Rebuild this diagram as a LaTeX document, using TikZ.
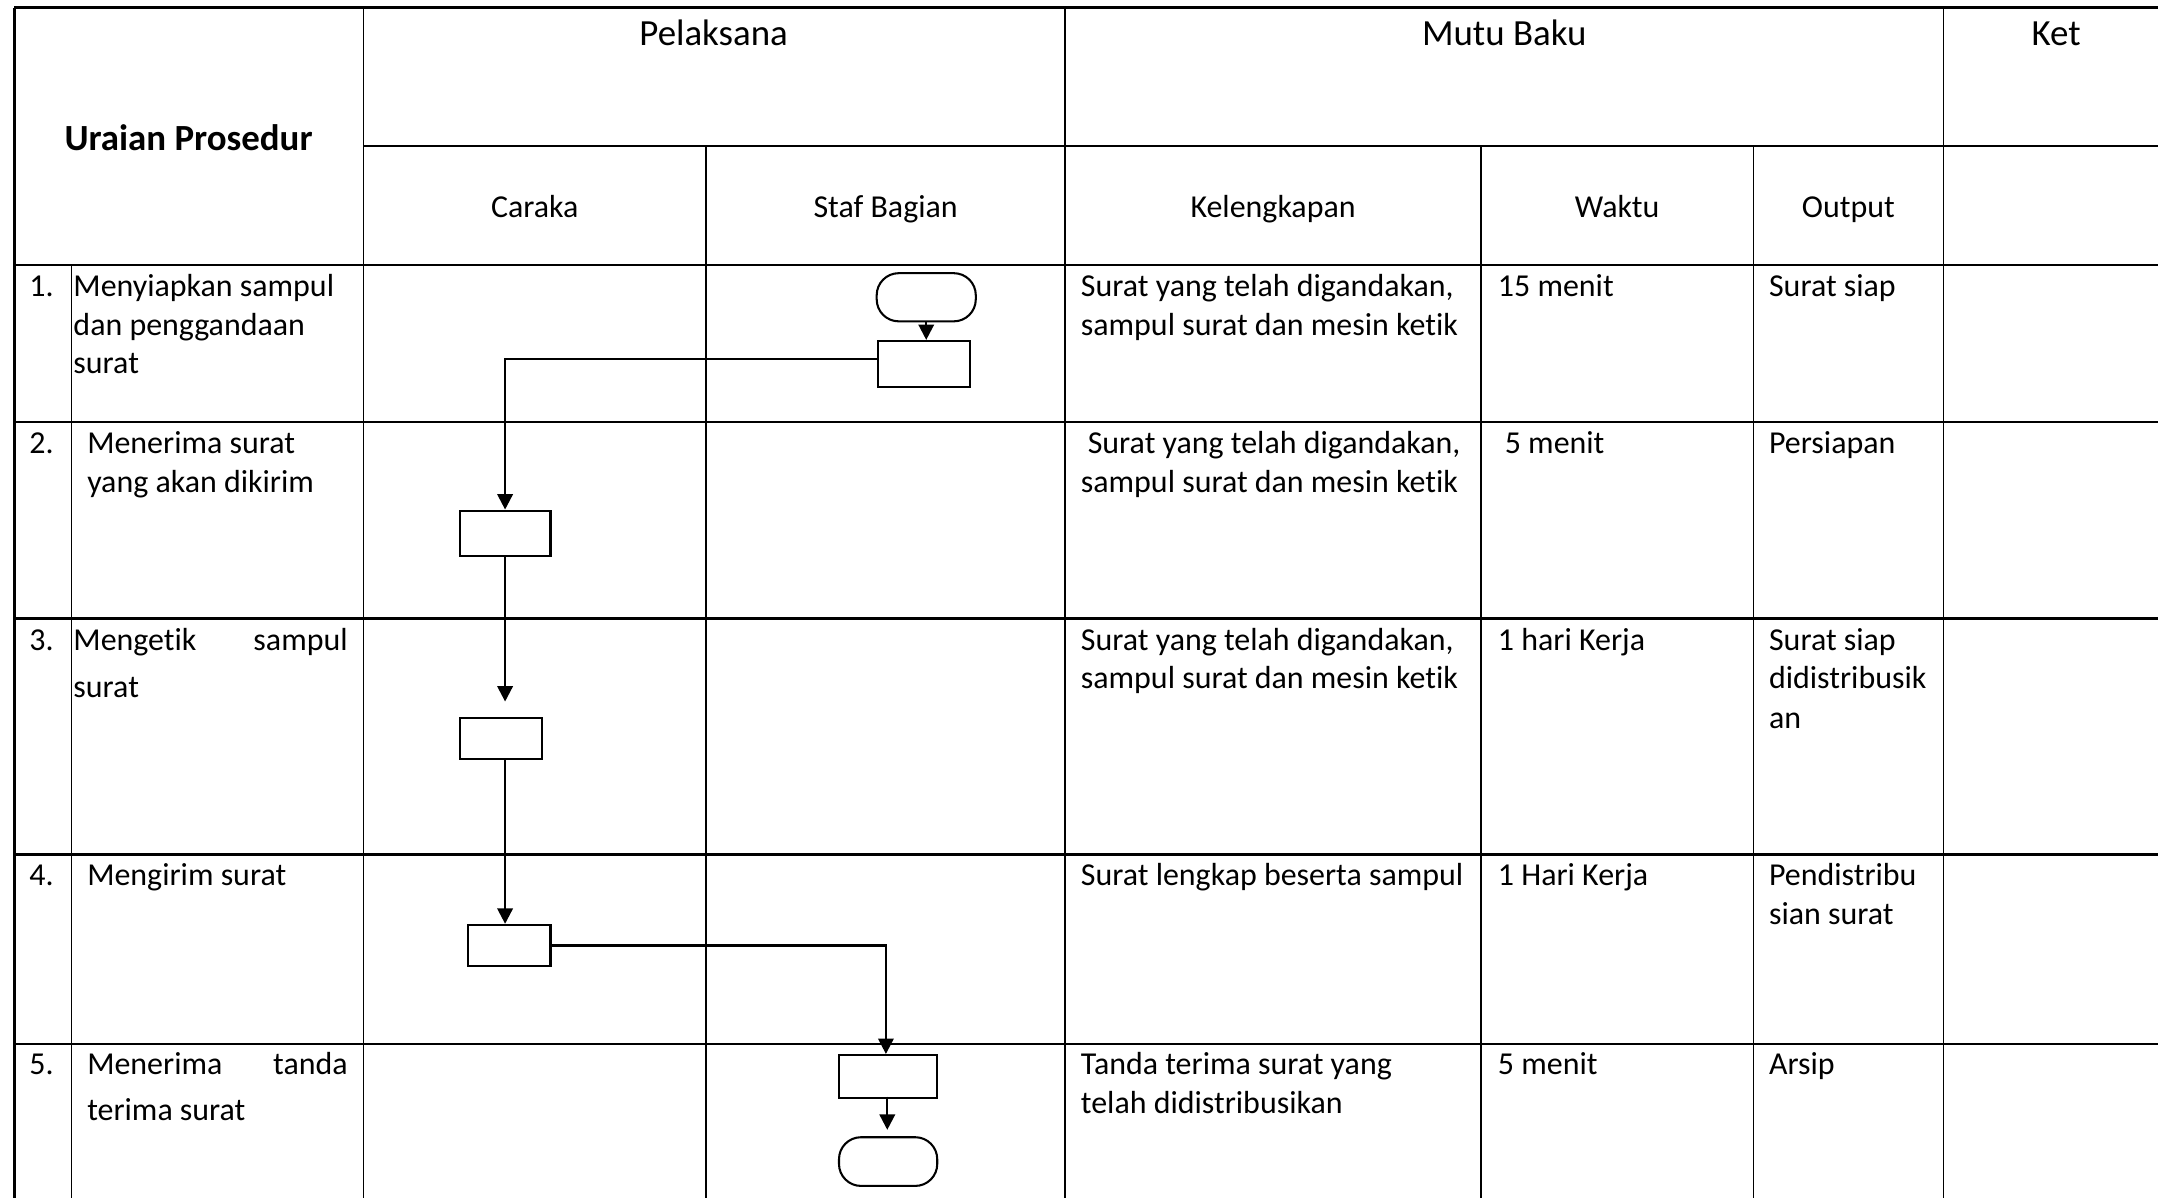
\documentclass[tikz,border=0pt]{standalone}
\usepackage{fontspec}
\setmainfont{Carlito}[Ligatures=CommonOff]
\usetikzlibrary{arrows.meta}
\begin{document}
\begin{tikzpicture}[x=0.5pt,y=-0.5pt,
  hline/.style={line width=0.9pt},
  vline/.style={line width=0.55pt},
  body/.style={font=\fontsize{11.6}{14}\selectfont, inner sep=0pt, anchor=base west},
  bodyr/.style={font=\fontsize{11.6}{14}\selectfont, inner sep=0pt, anchor=base east},
  hdr/.style={font=\fontsize{13.4}{16}\selectfont, inner sep=0pt, anchor=base},
  sub/.style={font=\fontsize{11.6}{14}\selectfont, inner sep=0pt, anchor=base},
  proc/.style={draw, line width=0.75pt, rectangle, inner sep=0pt},
  term/.style={draw, line width=0.75pt, rectangle, rounded corners=8pt, inner sep=0pt},
  arr/.style={line width=0.85pt, -{Triangle[length=5.6pt,width=5.6pt]}}]
\useasboundingbox (0,0) rectangle (1568,870);

% ---- table grid ----
\draw[hline] (10.5,5.5) -- (1576,5.5);
\draw[hline] (264,106) -- (1576,106);
\draw[hline] (10.5,192.5) -- (1576,192.5);
\draw[hline] (10.5,306.5) -- (1576,306.5);
\draw[hline] (10.5,449.5) -- (1576,449.5);
\draw[hline] (10.5,621) -- (1576,621);
\draw[hline] (10.5,758.5) -- (1576,758.5);
\draw[hline] (10.5,5.5) -- (10.5,880);
\draw[vline] (52,192.5) -- (52,880);
\draw[vline] (264,5.5) -- (264,880);
\draw[vline] (513,106) -- (513,880);
\draw[vline] (774,5.5) -- (774,880);
\draw[vline] (1076,106) -- (1076,880);
\draw[vline] (1274,106) -- (1274,880);
\draw[vline] (1412,5.5) -- (1412,880);
\draw[vline] (1576,5.5) -- (1576,880);

% ---- headers ----
\node[hdr, font=\fontsize{13.4}{16}\selectfont\bfseries] (hUraian) at (137,109) {Uraian Prosedur};
\node[hdr] (hPel) at (518.5,33) {Pelaksana};
\node[hdr] (hMutu) at (1093,33) {Mutu Baku};
\node[hdr] (hKet) at (1494,33) {Ket};
\node[sub] (hCar) at (388.5,158) {Caraka};
\node[sub] (hStaf) at (643.5,158) {Staf Bagian};
\node[sub] (hKel) at (925,158) {Kelengkapan};
\node[sub] (hWak) at (1175,158) {Waktu};
\node[sub] (hOut) at (1343,158) {Output};

% ---- row 1 ----
\node[body] (n1) at (21,215.5) {1.};
\node[body] (u1a) at (53,215.5) {Menyiapkan sampul};
\node[body] (u1b) at (53,243.5) {dan penggandaan};
\node[body] (u1c) at (53,271.5) {surat};
\node[body] (k1a) at (785,215.5) {Surat yang telah digandakan,};
\node[body] (k1b) at (785,243.5) {sampul surat dan mesin ketik};
\node[body] (w1) at (1088,215.5) {15 menit};
\node[body] (o1) at (1285,215.5) {Surat siap};

% ---- row 2 ----
\node[body] (n2) at (21,329.5) {2.};
\node[body] (u2a) at (63,329.5) {Menerima surat};
\node[body] (u2b) at (63,357.5) {yang akan dikirim};
\node[body] (k2a) at (790,329.5) {Surat yang telah digandakan,};
\node[body] (k2b) at (785,357.5) {sampul surat dan mesin ketik};
\node[body] (w2) at (1093,329.5) {5 menit};
\node[body] (o2) at (1285,329.5) {Persiapan};

% ---- row 3 ----
\node[body] (n3) at (21,472.5) {3.};
\node[body] (u3a) at (53,472.5) {Mengetik};
\node[bodyr] (u3b) at (253,472.5) {sampul};
\node[body] (u3c) at (53,506.5) {surat};
\node[body] (k3a) at (785,472.5) {Surat yang telah digandakan,};
\node[body] (k3b) at (785,500.5) {sampul surat dan mesin ketik};
\node[body] (w3) at (1088,472.5) {1 hari Kerja};
\node[body] (o3a) at (1285,472.5) {Surat siap};
\node[body] (o3b) at (1285,500.5) {didistribusik};
\node[body] (o3c) at (1285,529.5) {an};

% ---- row 4 ----
\node[body] (n4) at (21,643.5) {4.};
\node[body] (u4a) at (63,643.5) {Mengirim surat};
\node[body] (k4a) at (785,643.5) {Surat lengkap beserta sampul};
\node[body] (w4) at (1088,643.5) {1 Hari Kerja};
\node[body] (o4a) at (1285,643.5) {Pendistribu};
\node[body] (o4b) at (1285,672) {sian surat};

% ---- row 5 ----
\node[body] (n5) at (21,780.5) {5.};
\node[body] (u5a) at (63,780.5) {Menerima};
\node[bodyr] (u5b) at (253,780.5) {tanda};
\node[body] (u5c) at (63,814.5) {terima surat};
\node[body] (k5a) at (785,780.5) {Tanda terima surat yang};
\node[body] (k5b) at (785,809) {telah didistribusikan};
\node[body] (w5) at (1088,780.5) {5 menit};
\node[body] (o5) at (1285,780.5) {Arsip};

% ---- flowchart ----
\node[term, minimum width=36pt, minimum height=17.5pt] (t1) at (673,216) {};
\node[proc, minimum width=33.5pt, minimum height=16.75pt] (b1) at (671.5,264.5) {};
\node[proc, minimum width=33pt, minimum height=16.5pt] (b2) at (367,387.5) {};
\node[proc, minimum width=30pt, minimum height=15pt] (b3) at (364,536.5) {};
\node[proc, minimum width=30pt, minimum height=15pt] (b4) at (370,687) {};
\node[proc, minimum width=35.7pt, minimum height=15.75pt] (b5) at (645.3,782.3) {};
\node[term, minimum width=35.7pt, minimum height=17.7pt] (t2) at (645.3,844) {};

\draw[arr] (t1.south) -- (t1.south |- b1.north);
\draw[arr] ([yshift=1.75pt]b1.west) -| (b2.north);
\draw[arr, shorten >=5.5pt] (b2.south) -- (b2.south |- b3.north);
\draw[arr] (b2.south |- b3.south) -- (b2.south |- b4.north);
\draw[arr] (b4.east) -| ([xshift=-0.8pt]b5.north);
\draw[arr] ([xshift=-0.3pt,yshift=1pt]b5.south) -- ([xshift=-0.3pt,yshift=2.3pt]t2.north);
\end{tikzpicture}
\end{document}
